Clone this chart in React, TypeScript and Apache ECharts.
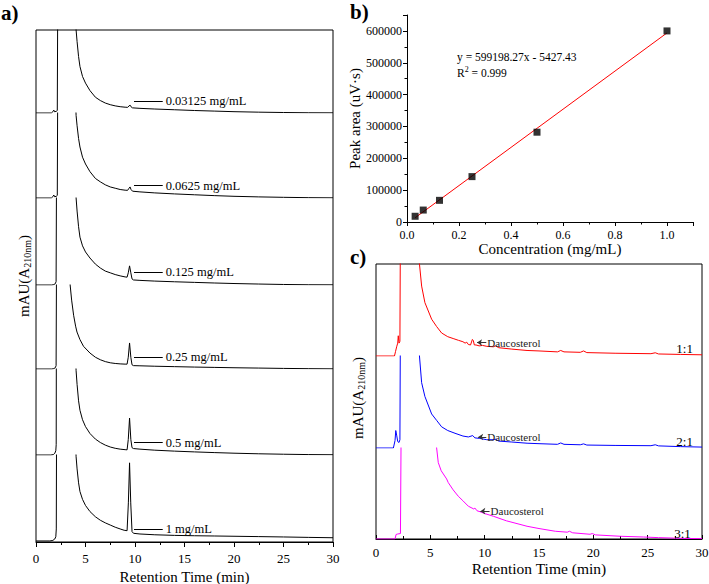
import React, { useEffect, useRef } from 'react';
import * as echarts from 'echarts';

const FONT = '"Liberation Serif", "Times New Roman", Times, serif';

// ---------------- Panel a : stacked chromatograms (values in % of each trace band) ----------------
const aConcLabels = ['0.03125 mg/mL', '0.0625 mg/mL', '0.125 mg/mL', '0.25 mg/mL', '0.5 mg/mL', '1 mg/mL'];

const aTrace03125: (number | null)[][] = [
  [0, 0], [1.55, 0], [1.7, 1.5], [1.8, 3.5], [1.88, 1.5], [2.05, 2], [2.15, 3], [2.2, 150], [2.3, null],
  [3.95, 130], [4.05, 100], [4.15, 86], [4.3, 68], [4.44, 56], [4.7, 44], [5.0, 36], [5.45, 27], [6.0, 19],
  [6.5, 15], [7.0, 12], [7.5, 10], [8.0, 8.6], [8.5, 7.6], [9.0, 7], [9.25, 6.8], [9.4, 8.5], [9.5, 9.5],
  [9.6, 7.5], [9.75, 6.2], [10.5, 5.6], [12, 4.8], [14, 3.9], [16, 3], [18, 2.3], [20, 1.6], [22.5, 1],
  [25, 0.6], [27.5, 0.3], [30, 0.2],
];
const aTrace0625: (number | null)[][] = [
  [0, 0], [1.55, 0], [1.7, 1.5], [1.8, 3.5], [1.88, 1.5], [2.05, 2], [2.15, 3], [2.2, 150], [2.3, null],
  [3.95, 130], [4.05, 97], [4.15, 85], [4.3, 70], [4.44, 60], [4.7, 48], [5.0, 40], [5.45, 31], [6.0, 23],
  [6.5, 19], [7.0, 15.5], [7.5, 13], [8.0, 11.5], [8.5, 10], [9.0, 9.2], [9.25, 9], [9.4, 11.5], [9.5, 13],
  [9.6, 10], [9.75, 8], [10.5, 7.2], [12, 6], [14, 4.8], [16, 3.8], [18, 2.8], [20, 2], [22.5, 1.3],
  [25, 0.8], [27.5, 0.4], [30, 0.2],
];
const aTrace125: (number | null)[][] = [
  [0, 0], [1.6, 0], [1.8, 0.5], [1.95, 1.5], [2.03, 4], [2.08, 150], [2.2, null],
  [3.95, 130], [4.05, 100], [4.15, 85], [4.3, 67], [4.44, 55], [4.7, 45], [5.0, 38], [5.45, 31], [6.0, 24],
  [6.5, 19.5], [7.0, 16], [7.5, 14], [8.0, 12], [8.5, 10.5], [9.0, 9.3], [9.2, 9], [9.32, 14], [9.45, 22],
  [9.58, 14], [9.7, 7], [9.85, 5.8], [10.5, 5.3], [12, 4.5], [14, 3.7], [16, 3], [18, 2.3], [20, 1.7],
  [22.5, 1.1], [25, 0.6], [27.5, 0.3], [30, 0.2],
];
const aTrace25: (number | null)[][] = [
  [0, 0], [1.6, 0], [1.8, 0.5], [1.95, 1.5], [2.03, 4], [2.08, 150], [2.2, null],
  [3.35, 130], [3.45, 100], [3.6, 82], [3.8, 64], [4.0, 51], [4.14, 44], [4.44, 35], [4.8, 27], [5.45, 19],
  [6.0, 14], [6.5, 11], [7.0, 8.8], [7.5, 7.4], [8.0, 6.6], [8.5, 6.1], [9.0, 5.8], [9.2, 5.8], [9.32, 14],
  [9.45, 31], [9.58, 14], [9.7, 5], [9.85, 4], [10.5, 3.8], [12, 3.3], [14, 2.8], [16, 2.3], [18, 1.9],
  [20, 1.5], [22.5, 1.1], [25, 0.7], [27.5, 0.4], [30, 0.2],
];
const aTrace5: (number | null)[][] = [
  [0, 0], [1.5, 0], [1.75, 0.5], [1.9, 2], [2.0, 5], [2.04, 12], [2.06, 150], [2.2, null],
  [3.95, 130], [4.05, 98], [4.15, 82], [4.3, 63], [4.44, 52], [4.7, 41], [5.0, 33], [5.45, 25], [6.0, 18.5],
  [6.5, 14.5], [7.0, 11.5], [7.5, 9.3], [8.0, 7.8], [8.5, 6.8], [9.0, 6.2], [9.2, 6], [9.32, 18], [9.45, 43],
  [9.58, 18], [9.7, 8.5], [9.85, 7.5], [10.5, 6.8], [12, 5.6], [14, 4.5], [16, 3.6], [18, 2.8], [20, 2.1],
  [22.5, 1.4], [25, 0.9], [27.5, 0.5], [30, 0.3],
];
const aTrace1: (number | null)[][] = [
  [0, 1.2], [1.4, 1.2], [1.7, 1.8], [1.9, 3.5], [2.0, 6], [2.05, 15], [2.08, 150], [2.2, null],
  [3.95, 130], [4.05, 98], [4.15, 84], [4.3, 68], [4.44, 58], [4.7, 49], [5.0, 42], [5.45, 35], [6.0, 29],
  [6.5, 25], [7.0, 22], [7.5, 19.5], [8.0, 17], [8.5, 15], [8.9, 13.5], [9.2, 13], [9.33, 45], [9.45, 91],
  [9.57, 45], [9.7, 12], [9.85, 10], [10.5, 9.2], [12, 8.3], [14, 7.6], [16, 7.2], [18, 6.9], [20, 6.6],
  [22.5, 6.2], [25, 5.8], [27.5, 5.3], [30, 4.9],
];
const aTraces = [aTrace03125, aTrace0625, aTrace125, aTrace25, aTrace5, aTrace1];

// ---------------- Panel b : calibration curve ----------------
const concentrations = [0.03125, 0.0625, 0.125, 0.25, 0.5, 1.0];
const peakAreas = [18000, 37500, 68000, 142500, 282000, 600000];
const fitX = [0.03125, 1.0];
const fitY = [13297, 593771];
const equationText = 'y = 599198.27x - 5427.43';
const r2Text = '0.999';

// ---------------- Panel c : ratio chromatograms (values in % of each trace band) ----------------
const cRatioLabels = ['1:1', '2:1', '3:1'];
const cColors = ['#ff0000', '#0000ff', '#ff00ff'];
const cTrace11: (number | null)[][] = [
  [0, 0], [1.7, 0], [1.8, 5], [1.9, 10], [2.0, 14], [2.05, 22], [2.12, 14], [2.2, 16], [2.25, 150], [2.4, null],
  [3.95, 110], [4.0, 100], [4.2, 76], [4.5, 58], [5.12, 40], [5.58, 32], [6.04, 25], [6.6, 21], [7.1, 19],
  [7.6, 17], [8.0, 15.5], [8.2, 14], [8.35, 15], [8.5, 12.5], [8.7, 12], [8.87, 18], [8.95, 17], [9.05, 12],
  [9.2, 12], [9.5, 11], [9.8, 11.5], [10.2, 10.5], [10.8, 10], [11.0, 11], [11.3, 9], [12.5, 7.5], [13.9, 6],
  [15, 5.5], [16.7, 4.5], [17.0, 6], [17.3, 4.5], [18.8, 4], [19.1, 5.5], [19.4, 3.7], [22, 3], [25.3, 2.5],
  [25.7, 3.5], [26, 2.2], [28, 1.7], [30, 1.3],
];
const cTrace21: (number | null)[][] = [
  [0, 0], [1.6, 0], [1.75, 8], [1.82, 19], [1.9, 14], [2.0, 7], [2.12, 6], [2.2, 9], [2.25, 150], [2.4, null],
  [3.95, 110], [4.0, 100], [4.2, 71], [4.5, 56], [5.12, 37], [5.58, 30], [6.04, 23], [6.6, 19], [7.27, 16],
  [8.0, 13], [8.5, 12], [8.9, 13.5], [9.1, 11], [9.5, 10.5], [10.2, 9], [10.8, 9], [11.0, 9.5], [11.3, 7.5],
  [12.5, 6.5], [13.9, 5.2], [15, 4.7], [16.7, 4], [17.0, 5.5], [17.3, 4], [18.8, 3.5], [19.1, 4.5],
  [19.4, 3.2], [22, 2.8], [25.3, 2.5], [25.7, 3.5], [26, 2.3], [28, 1.5], [30, 1],
];
const cTrace31: (number | null)[][] = [
  [0, 0], [1.75, 0], [1.85, 5], [2.0, 5.5], [2.25, 6], [2.33, 150], [2.5, null],
  [5.5, 110], [5.58, 100], [5.73, 84], [6.0, 75], [6.5, 66], [6.65, 62], [7.1, 54], [7.57, 47], [8.0, 42],
  [8.5, 36], [9.0, 33], [9.1, 34], [9.3, 31], [9.57, 30], [10, 28], [10.8, 25], [12, 20], [13.9, 14],
  [15, 11.5], [16.5, 8.5], [17.6, 7.5], [17.8, 8.5], [18.1, 6.8], [19.7, 5.2], [19.9, 6], [20.2, 4.5],
  [22.5, 3], [24.6, 2.2], [26, 1.5], [27.4, 1], [28.5, 0.6], [30, 0.4],
];
const cTraces = [cTrace11, cTrace21, cTrace31];

// ---------------- layout (pixels) ----------------
const aLeft = 36, aWidth = 297;
const aBandTops = [30, 113, 198, 285, 369, 455];
const aBandBottom = 542;
const cLeft = 376, cWidth = 326;
const cBandTops = [264, 356, 448];
const cBandBottom = 539;

function buildOption() {
  const grids: any[] = [];
  const xAxes: any[] = [];
  const yAxes: any[] = [];
  const series: any[] = [];

  const hiddenX = (gi: number) => ({ gridIndex: gi, type: 'value', min: 0, max: 30, show: false });
  const hiddenY = (gi: number) => ({ gridIndex: gi, type: 'value', min: 0, max: 100, show: false });
  const blackLine = { show: true, lineStyle: { color: '#000', width: 1 } };
  const emptyY = (gi: number) => ({
    gridIndex: gi, type: 'value', min: 0, max: 1,
    axisLine: { show: false }, axisTick: { show: false }, axisLabel: { show: false }, splitLine: { show: false },
  });

  // ---- panel a frame (grid 0)
  grids.push({ left: aLeft, width: aWidth, top: aBandTops[0], height: aBandBottom - aBandTops[0], show: true, borderColor: '#000', borderWidth: 1, backgroundColor: 'transparent', containLabel: false, outerBoundsMode: 'none' });
  xAxes.push({
    gridIndex: 0, type: 'value', min: 0, max: 30, interval: 5,
    axisLine: { ...blackLine, onZero: false },
    axisTick: { show: true, length: 5, lineStyle: { color: '#000' } },
    minorTick: { show: true, splitNumber: 2, length: 3, lineStyle: { color: '#000' } },
    axisLabel: { color: '#000', fontSize: 13, fontFamily: FONT, margin: 10 },
    splitLine: { show: false }, minorSplitLine: { show: false },
    name: 'Retention Time (min)', nameLocation: 'middle', nameGap: 23,
    nameTextStyle: { fontSize: 15, fontFamily: FONT, color: '#000' },
  });
  yAxes.push(emptyY(0));

  // ---- panel a bands (grids 1..6)
  aBandTops.forEach((top, i) => {
    const bottom = i < aBandTops.length - 1 ? aBandTops[i + 1] : aBandBottom;
    const gi = grids.length;
    grids.push({ left: aLeft, width: aWidth, top, height: bottom - top, containLabel: false, outerBoundsMode: 'none' });
    xAxes.push(hiddenX(gi));
    yAxes.push(hiddenY(gi));
    series.push({
      type: 'line', xAxisIndex: gi, yAxisIndex: gi, data: aTraces[i], symbol: 'none', showSymbol: false,
      clip: true, connectNulls: false, lineStyle: { color: '#000', width: 1 }, silent: true,
      markLine: {
        silent: true, symbol: ['none', 'none'], animation: false,
        lineStyle: { color: '#000', width: 1, type: 'solid' },
        label: { show: true, position: 'end', formatter: aConcLabels[i], color: '#000', fontSize: 12.5, fontFamily: FONT, distance: 3 },
        data: [[{ coord: [9.9, 14.5] }, { coord: [12.8, 14.5] }]],
      },
    });
  });

  // ---- panel b (grid 7)
  const gb = grids.length;
  grids.push({ left: 407, width: 286, top: 15, height: 207, containLabel: false, outerBoundsMode: 'none' });
  xAxes.push({
    gridIndex: gb, type: 'value', min: 0, max: 1.1, interval: 0.2,
    axisLine: { ...blackLine, onZero: false },
    axisTick: { show: true, length: 4, lineStyle: { color: '#000' } },
    minorTick: { show: true, splitNumber: 2, length: 2.5, lineStyle: { color: '#000' } },
    axisLabel: { color: '#000', fontSize: 12, fontFamily: FONT, margin: 7, formatter: (v: number) => (v > 1.05 ? '' : v.toFixed(1)) },
    splitLine: { show: false }, minorSplitLine: { show: false },
    name: 'Concentration (mg/mL)', nameLocation: 'middle', nameGap: 15,
    nameTextStyle: { fontSize: 15, fontFamily: FONT, color: '#000' },
  });
  yAxes.push({
    gridIndex: gb, type: 'value', min: 0, max: 650000, interval: 100000,
    axisLine: { ...blackLine, onZero: false },
    axisTick: { show: true, length: 4, lineStyle: { color: '#000' } },
    minorTick: { show: true, splitNumber: 2, length: 2.5, lineStyle: { color: '#000' } },
    axisLabel: { color: '#000', fontSize: 12, fontFamily: FONT, margin: 5, formatter: (v: number) => (v > 600000 ? '' : String(v)) },
    splitLine: { show: false }, minorSplitLine: { show: false },
    name: 'Peak area (uV\u00b7s)', nameLocation: 'middle', nameRotate: 90, nameGap: 43,
    nameTextStyle: { fontSize: 15, fontFamily: FONT, color: '#000' },
  });
  series.push({
    type: 'line', xAxisIndex: gb, yAxisIndex: gb, data: fitX.map((x, i) => [x, fitY[i]]),
    symbol: 'none', lineStyle: { color: '#ff0000', width: 1 }, z: 2, silent: true,
  });
  series.push({
    type: 'scatter', xAxisIndex: gb, yAxisIndex: gb, data: concentrations.map((c, i) => [c, peakAreas[i]]),
    symbol: 'rect', symbolSize: 7, itemStyle: { color: '#000' }, z: 3, silent: true,
  });

  // ---- panel c frame
  const gc = grids.length;
  grids.push({ left: cLeft, width: cWidth, top: cBandTops[0], height: cBandBottom - cBandTops[0], show: true, borderColor: '#000', borderWidth: 1, backgroundColor: 'transparent', containLabel: false, outerBoundsMode: 'none' });
  xAxes.push({
    gridIndex: gc, type: 'value', min: 0, max: 30, interval: 5,
    axisLine: { ...blackLine, onZero: false },
    axisTick: { show: true, inside: true, length: 4, lineStyle: { color: '#000' } },
    minorTick: { show: true, splitNumber: 2, length: 3, lineStyle: { color: '#000' } },
    axisLabel: { color: '#000', fontSize: 13, fontFamily: FONT, margin: 7 },
    splitLine: { show: false }, minorSplitLine: { show: false },
    name: 'Retention Time (min)', nameLocation: 'middle', nameGap: 21,
    nameTextStyle: { fontSize: 15.5, fontFamily: FONT, color: '#000' },
  });
  yAxes.push(emptyY(gc));

  const daucoArrows = [
    { from: 10.15, to: 9.3, level: 14.6 },
    { from: 10.15, to: 9.4, level: 12 },
    { from: 10.45, to: 9.6, level: 30.6 },
  ];
  const ratioPos = [
    { x: 28.4, y: 8.5 },
    { x: 28.4, y: 7.5 },
    { x: 28.2, y: 5.5 },
  ];

  cBandTops.forEach((top, i) => {
    const bottom = i < cBandTops.length - 1 ? cBandTops[i + 1] : cBandBottom;
    const gi = grids.length;
    grids.push({ left: cLeft, width: cWidth, top, height: bottom - top, containLabel: false, outerBoundsMode: 'none' });
    xAxes.push(hiddenX(gi));
    yAxes.push(hiddenY(gi));
    const a = daucoArrows[i];
    series.push({
      type: 'line', xAxisIndex: gi, yAxisIndex: gi, data: cTraces[i], symbol: 'none', showSymbol: false,
      clip: true, connectNulls: false, lineStyle: { color: cColors[i], width: 1 }, silent: true,
      markLine: {
        silent: true, symbol: ['none', 'arrow'], symbolSize: 5, animation: false,
        lineStyle: { color: '#333', width: 1, type: 'solid' },
        label: { show: true, position: 'start', formatter: 'Daucosterol', color: '#222', fontSize: 11, fontFamily: FONT, distance: 1 },
        data: [[{ coord: [a.from, a.level] }, { coord: [a.to, a.level] }]],
      },
      markPoint: {
        silent: true, symbol: 'circle', symbolSize: 1, animation: false,
        itemStyle: { color: 'rgba(0,0,0,0)' },
        label: { show: true, position: 'inside', formatter: cRatioLabels[i], color: '#000', fontSize: 13, fontFamily: FONT },
        data: [{ coord: [ratioPos[i].x, ratioPos[i].y] }],
      },
    });
  });

  const panelLabel = (text: string, x: number, y: number) => ({
    type: 'text', x, y, silent: true,
    style: { text, font: `bold 21px ${FONT}`, fill: '#000', align: 'left', verticalAlign: 'middle' },
  });
  const yTitle = (x: number, y: number) => ({
    type: 'text', x, y, rotation: Math.PI / 2, silent: true,
    style: {
      text: '{m|mAU(A}{s|210nm}{m|)}', align: 'center', verticalAlign: 'middle',
      rich: {
        m: { fontSize: 15, fontFamily: FONT, fill: '#000' },
        s: { fontSize: 10, fontFamily: FONT, fill: '#000', padding: [6, 0, 0, 0] },
      },
    },
  });

  return {
    animation: false,
    backgroundColor: '#fff',
    textStyle: { fontFamily: FONT, color: '#000' },
    grid: grids,
    xAxis: xAxes,
    yAxis: yAxes,
    series,
    graphic: [
      panelLabel('a)', 1, 13),
      panelLabel('b)', 350, 12),
      panelLabel('c)', 350, 257),
      yTitle(24, 276),
      yTitle(358, 398),
      {
        type: 'text', x: 457, y: 57, silent: true,
        style: { text: equationText, font: `11.5px ${FONT}`, fill: '#000', align: 'left', verticalAlign: 'middle' },
      },
      {
        type: 'text', x: 457, y: 73, silent: true,
        style: {
          text: `{m|R}{p|2}{m| = ${r2Text}}`, align: 'left', verticalAlign: 'middle',
          rich: {
            m: { fontSize: 11.5, fontFamily: FONT, fill: '#000' },
            p: { fontSize: 8, fontFamily: FONT, fill: '#000', padding: [0, 0, 7, 0] },
          },
        },
      },
    ],
  };
}

export default function App() {
  const ref = useRef<HTMLDivElement>(null);
  useEffect(() => {
    document.body.style.margin = '0';
    if (!ref.current) return;
    const chart = echarts.init(ref.current, undefined, { renderer: 'svg' });
    chart.setOption(buildOption() as any);
    return () => chart.dispose();
  }, []);
  return <div ref={ref} style={{ width: 709, height: 584 }} />;
}
